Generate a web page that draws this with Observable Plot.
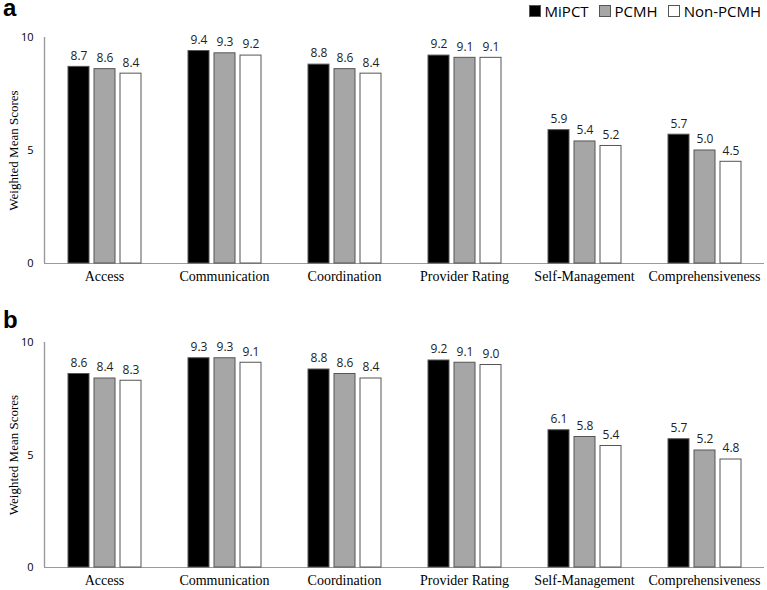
<!DOCTYPE html>
<html>
<head>
<meta charset="utf-8">
<script src="https://cdn.jsdelivr.net/npm/d3@7"></script>
<script src="https://cdn.jsdelivr.net/npm/@observablehq/plot@0.6"></script>
<style>
  html, body { margin: 0; padding: 0; background: #fff; }
  #wrap { position: relative; width: 767px; height: 590px; overflow: hidden; }
  .panel { position: absolute; left: 0; }
  .tag { position: absolute; left: 3px; font: bold 24px "Liberation Sans", Arial, sans-serif; line-height: 12px; height: 14px; color: #000; z-index: 2; }
  #legend { position: absolute; top: 1px; right: 6px; display: flex; gap: 10px; font: 15px "Open Sans", "Noto Sans", sans-serif; color: #000; align-items: center; z-index: 2; }
  #legend span.item { display: flex; align-items: center; gap: 4px; }
  #legend span.sw { display: inline-block; width: 12px; height: 12px; border: 1px solid #555; box-sizing: border-box; }
</style>
</head>
<body>
<div id="wrap">
  <div class="tag" style="top:2px">a</div>
  <div class="tag" style="top:314px">b</div>
  <div id="legend"></div>
  <div class="panel" id="pa" style="top:0"></div>
  <div class="panel" id="pb" style="top:295px"></div>
</div>
<script>
const categories = ["Access", "Communication", "Coordination", "Provider Rating", "Self-Management", "Comprehensiveness"];
const groups = ["MiPCT", "PCMH", "Non-PCMH"];
const colors = ["#000000", "#a6a6a6", "#ffffff"];
const yTicks = [0, 5, 10];

const aMiPCT = [8.7, 9.4, 8.8, 9.2, 5.9, 5.7];
const aPCMH = [8.6, 9.3, 8.6, 9.1, 5.4, 5.0];
const aNon = [8.4, 9.2, 8.4, 9.1, 5.2, 4.5];

const bMiPCT = [8.6, 9.3, 8.8, 9.2, 6.1, 5.7];
const bPCMH = [8.4, 9.3, 8.6, 9.1, 5.8, 5.2];
const bNon = [8.3, 9.1, 8.4, 9.0, 5.4, 4.8];

function rows(series) {
  const out = [];
  categories.forEach((c, i) => {
    groups.forEach((g, j) => out.push({cat: c, group: g, value: series[j][i]}));
  });
  return out;
}

const marginLeft = 44;

function panel(data, marginTop, marginBottom) {
  return Plot.plot({
    width: 767,
    height: 295,
    marginLeft,
    marginRight: 3,
    marginTop,
    marginBottom,
    style: {fontFamily: "'Liberation Serif', serif", fontSize: "14px", background: "transparent"},
    fx: {domain: categories, padding: 0, label: null, axis: "bottom", tickSize: 0, tickPadding: 8},
    x: {domain: groups, axis: null, paddingInner: 0.21, paddingOuter: 0.87},
    y: {domain: [0, 10], ticks: yTicks, tickSize: 0, tickPadding: 11, label: "Weighted Mean Scores", labelArrow: "none", labelAnchor: "center", labelOffset: 36},
    color: {domain: groups, range: colors},
    marks: [
      Plot.ruleY([0], {stroke: "#9a9a9a", strokeWidth: 1.2}),
      Plot.barY(data, {fx: "cat", x: "group", y: "value", fill: "group", stroke: "#555", strokeWidth: 1}),
      Plot.text(data, {fx: "cat", x: "group", y: "value", text: d => d.value.toFixed(1), dy: -11, fontSize: 12, fill: "#222", fontFamily: "'Open Sans', 'Noto Sans', sans-serif"})
    ]
  });
}

function tweak(p) {
  p.querySelectorAll("[aria-label='y-axis tick label']").forEach(n => {
    n.setAttribute("font-family", "'Open Sans', 'Noto Sans', sans-serif");
    n.setAttribute("font-size", "11");
  });
  p.querySelectorAll("[aria-label='y-axis label']").forEach(n => {
    n.setAttribute("font-size", "13");
    n.querySelectorAll("text").forEach(t => { t.textContent = t.textContent.replace(/\s*[↑→]\s*/g, ""); });
  });
  // vertical y-axis line, placed with the plot's own y scale
  const y = p.scale("y");
  d3.select(p).append("line")
    .attr("x1", marginLeft + 0.5).attr("x2", marginLeft + 0.5)
    .attr("y1", y.apply(0)).attr("y2", y.apply(10))
    .attr("stroke", "#9a9a9a").attr("stroke-width", 1.4);
}

const pa = panel(rows([aMiPCT, aPCMH, aNon]), 37, 32);
const pb = panel(rows([bMiPCT, bPCMH, bNon]), 47, 23);
document.getElementById("pa").appendChild(pa);
document.getElementById("pb").appendChild(pb);
tweak(pa); tweak(pb);

const legend = document.getElementById("legend");
groups.forEach((g, i) => {
  const item = document.createElement("span");
  item.className = "item";
  const sw = document.createElement("span");
  sw.className = "sw";
  sw.style.background = colors[i];
  item.appendChild(sw);
  item.appendChild(document.createTextNode(g));
  legend.appendChild(item);
});
</script>
</body>
</html>
